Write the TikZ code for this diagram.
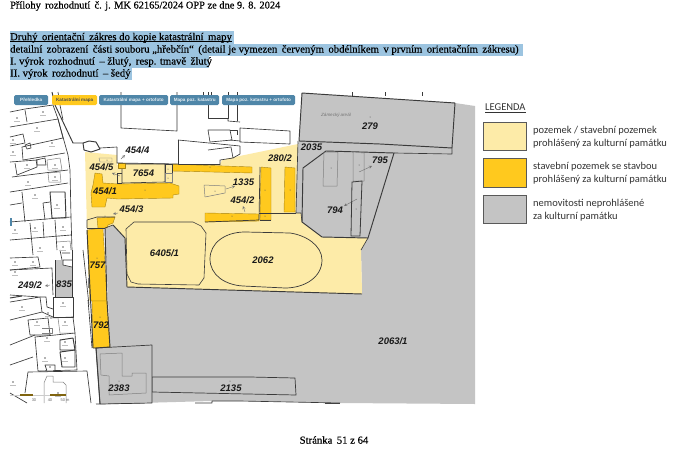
\documentclass[tikz,border=0pt]{standalone}
\usepackage{fontspec}
\setmainfont{Liberation Serif}
\newfontfamily\hdrfont[FakeBold=0.35]{Liberation Serif}
\newfontfamily\legfont{Carlito}
\newfontfamily\mapfont{Liberation Sans}
\usetikzlibrary{calc}
\definecolor{ly}{HTML}{FDEBA8}
\definecolor{dy}{HTML}{FFC91E}
\definecolor{gy}{HTML}{C4C4C4}
\definecolor{hl}{HTML}{9CC4E0}
\definecolor{btn}{HTML}{4F86A8}
\definecolor{ln}{HTML}{3A3A3A}
\tikzset{
 hdr/.style={anchor=west,inner sep=0pt,font=\hdrfont\fontsize{10.7}{10}\selectfont,text=black},
 par/.style={anchor=center,inner sep=0pt,font=\mapfont\fontsize{9.5}{10}\selectfont\bfseries\itshape,text=black!90},
 cad/.style={draw=ln,line width=.65pt,line join=round},
 thick2/.style={draw=ln,line width=.95pt,line join=round},
 lyf/.style={fill=ly,draw=none},
 dyf/.style={fill=dy,draw=black!35!dy,line width=.4pt,line join=round},
 gyf/.style={fill=gy,draw=ln,line width=.7pt,line join=round},
 soft/.style={draw=black!50,line width=.5pt,line join=round},
 btnbox/.style={fill=btn,rounded corners=1.5pt,minimum height=10pt,inner sep=0pt,text=white!85!btn,font=\mapfont\fontsize{4.6}{5}\selectfont\bfseries},
 legt/.style={anchor=west,inner sep=0pt,align=left,font=\legfont\fontsize{10.5}{12.7}\selectfont,text=black!80},
 legb/.style={draw=black!65,line width=.5pt,minimum width=43pt,inner sep=0pt,anchor=north west},
 ptr/.style={draw=black!55,line width=.4pt,->,>=stealth},
 dot/.style={fill=black!70,circle,inner sep=.35pt},
 scl/.style={inner sep=0pt,font=\mapfont\fontsize{4}{5}\selectfont,text=black!60}
}
\begin{document}
\begin{tikzpicture}[x=1pt,y=-1pt]
\useasboundingbox (0,0) rectangle (680,450);
\fill[white] (0,0) rectangle (680,450);
% header
\node[hdr,font=\hdrfont\fontsize{10.4}{10}\selectfont] (h0) at (10,6) {Přílohy\, rozhodnutí\, č. j. MK 62165/2024 OPP ze dne 9. 8. 2024};
\fill[hl] (10,31) rectangle (234,43.5);
\fill[hl] (10,43.5) rectangle (523,56);
\fill[hl] (10,56) rectangle (209,68);
\fill[hl] (10,68) rectangle (132,80);
\node[hdr] (h1) at (10,37.5) {\underbar{Druhý\, orientační\, zákres do kopie katastrální\, mapy}};
\node[hdr] (h2) at (10,50) {detailní\, zobrazení\, části souboru „hřebčín“\, (detail je vymezen\, červeným\, obdélníkem\, v prvním\, orientačním\, zákresu)};
\node[hdr] (h3) at (10,62) {I. výrok\, rozhodnutí\, – žlutý,\, resp. tmavě\, žlutý};
\node[hdr] (h4) at (10,74) {II. výrok\, rozhodnutí\, – šedý};
% grey base of the map
\fill[gy] (105,228) -- (113,225) -- (125,238) -- (127,287) -- (362,294) -- (361,250) -- (368,238) -- (394,153) -- (452,154) -- (455,103) -- (475,106) -- (475,404) -- (340,403) -- (240,401) -- (212,401) -- (140,403) -- (100,404) -- (96,348) -- (110,347) -- cycle;
% light yellow estate
\fill[lyf] (85,152) -- (117,155) -- (117,165) -- (178,165) -- (220,164) -- (222,160) -- (230,158) -- (298,144) -- (296,213) -- (301,213) -- (302,222) -- (322,237) -- (368,238) -- (361,250) -- (362,294) -- (127,287) -- (125,238) -- (113,225) -- (105,228) -- (87,228) -- cycle;
% plot 279 and strip 2035
\fill[gy] (299,141) -- (302,93) -- (455,103) -- (452,154) -- (394,153) -- (368,238) -- (322,237) -- (302,222) -- (301,213) -- (296,213) -- (298,144) -- cycle;
\draw[thick2] (299,141) -- (302,93) -- (455,103) -- (452,148) -- (380,144) -- (299,141);
\draw[cad] (452,148) -- (452,154) -- (394,153);
\draw[cad] (298,141) -- (296,213) -- (301,213) -- (302,222);
\draw[thick2] (326,151) -- (394,153) -- (368,238) -- (322,237) -- (302,222) -- (303,168) -- cycle;
\draw[soft] (324,152) -- (338,152) -- (337,186) -- (323,186) -- cycle;
\path[fill=gy,soft] (353,152) -- (364,153) -- (364,181) -- (353,181) -- cycle;
\path[fill=gy,draw=ln,line width=.8pt] (352,182) -- (362,181) -- (360,236) -- (351,236) -- cycle;
% strip 2135 and plot 2383
\path[fill=gy,draw=ln,line width=.7pt,line join=round] (152,377) -- (250,377) -- (295,378) -- (296,395) -- (152,392) -- cycle;
\draw[cad] (96,404) -- (140,403) (195,403) -- (212,403) -- (212,401) -- (240,401) -- (340,403);
\draw[draw=black!75,line width=1pt] (325,403.5) -- (340,403.5);
\path[gyf] (96,348) -- (152,345) -- (152,403) -- (100,404) -- cycle;
\draw[soft] (100,354) -- (122,353) -- (122,376) -- (132,376) -- (132,373) -- (146,373) -- (146,393) -- (109,395) -- (109,376) -- (101,375) -- cycle;
% frame of the lower estate
\draw[thick2] (127,287) -- (362,294);
\draw[cad] (361,250) -- (368,238);
% dark yellow plots
\path[dyf] (87,230) -- (103,228) -- (107,301) -- (90,301) -- cycle;
\path[dyf] (92,301) -- (107,301) -- (110,347) -- (93,348) -- cycle;
\path[dyf] (97,218) -- (115,217) -- (113,223) -- (108,225) -- (107,228) -- (98,228) -- cycle;
\draw[thick2] (105,228) -- (107,301) -- (110,347) -- (96,348);
\draw[thick2] (113,225) -- (125,238) -- (127,287);
\draw[cad] (105,228) -- (113,225);
\draw[cad] (87,228) -- (87,220) -- (97,217) -- (115,217);
\draw[cad] (87,228) -- (105,228);
\draw[thick2] (87,230) -- (93,348);
% main building 454/1
\path[dyf] (95,173) -- (102,174) -- (103,183) -- (118,184) -- (170,183) -- (179,186) -- (179,194) -- (173,195) -- (173,198) -- (118,199) -- (107,198) -- (105,207) -- (92,207) -- (91,193) -- (93,185) -- cycle;
% strips
\path[dyf] (172,164) -- (195,165) -- (252,167) -- (252,173) -- (172,171) -- cycle;
\path[dyf] (261,167) -- (271,168) -- (271,220) -- (260,220) -- cycle;
\path[dyf] (285,167) -- (295,168) -- (295,212) -- (284,212) -- cycle;
\path[dyf] (205,213) -- (259,214) -- (259,221) -- (205,222) -- cycle;
\draw[ln,line width=.7pt] (260,167) -- (259,220) -- (205,222);
\draw[ln,line width=.7pt] (259,213) -- (296,213);
\draw[ln,line width=.4pt] (271,220) -- (260,220);
% small boxes
\path[fill=ly,soft] (204,185) -- (225,186) -- (225,193) -- (205,197) -- cycle;
\path[fill=ly,draw=ln,line width=.6pt] (122,164) -- (165,164) -- (165,182) -- (122,183) -- cycle;
\path[fill=ly,draw=ln,line width=.5pt] (165,164) -- (172,164) -- (172,173) -- (165,173) -- cycle;
\path[fill=ly,soft,line width=.4pt] (165,173) -- (172,173) -- (172,182) -- (165,182) -- cycle;
\path[fill=ly,soft,line width=.4pt] (99,158) -- (112,158) -- (112,162) -- (100,162) -- cycle;
\path[dyf] (118,163) -- (125,163) -- (125,168) -- (118,168) -- cycle;
\draw[ln,line width=.7pt] (117,147) -- (117,163) -- (178,164);
\draw[ln,line width=.6pt] (117,173) -- (122,173) (117,173) -- (117,183) -- (122,183);
% courts
\path[fill=ly,draw=ln,line width=.6pt] (134,222) -- (193,222) -- (201,226) -- (206,233) -- (204,278) -- (199,285) -- (138,284) -- (131,282) -- (127,274) -- (126,229) -- cycle;
\path[fill=ly,draw=ln,line width=.7pt] (245,232) -- (290,233) .. controls (305,235) and (322,245) .. (322,260) .. controls (322,277) and (305,288) .. (285,288) -- (243,286) .. controls (225,285) and (210,275) .. (210,259) .. controls (210,243) and (225,232) .. (245,232) -- cycle;
% grey 835
\fill[gy] (55,260) -- (63,260) -- (63,265) -- (70,267) -- (72,267) -- (72,297) -- (55,297) -- cycle;
\draw[cad] (55,260) -- (55,297) -- (72,297) -- (72,250);
\draw[cad] (72,260) -- (63,260) -- (63,265) -- (72,267);
\draw[cad] (62,253) -- (70,253) (60,250) -- (62,260);
% left cadastre: upper part
\draw[thick2] (52,92) -- (55,105) -- (73,143) -- (83,143);
\draw[cad] (58,92) -- (60,105) -- (63,120);
\draw[cad] (58,119) -- (68,155) -- (70,170) -- (71,217);
\draw[cad] (25,110) -- (27,122);
\draw[cad] (10,112) -- (25,109) -- (53,105) -- (58,119);
\draw[cad] (10,127) -- (58,119) -- (63,138) -- (22,147) -- (23,160);
\draw[cad] (10,137) -- (23,134) -- (25,143) -- (10,146);
\draw[cad] (25,145) -- (30,143) -- (31,148) -- (27,149) -- cycle;
\draw[cad] (23,160) -- (65,153);
\draw[cad] (10,162) -- (37,160) -- (37,167) -- (17,175);
\draw[cad] (15,163) -- (17,175);
\draw[cad] (36,160) -- (45,158) -- (46,165) -- (37,165) -- cycle;
\draw[soft] (47,160) -- (60,158) -- (62,170) -- (48,170) -- cycle;
\draw[soft] (48,173) -- (60,172) -- (61,182) -- (49,182) -- cycle;
\draw[cad] (12,177) -- (68,170);
\draw[cad] (10,192) -- (68,183);
\draw[cad] (10,205) -- (22,203);
\draw[cad] (22,192) -- (25,222);
\draw[thick2] (50,192) -- (65,192) -- (66,218) -- (52,218) -- cycle;
\draw[cad] (43,203) -- (50,202) (43,203) -- (45,220);
\draw[cad] (10,222) -- (71,217);
\draw[cad] (10,240) -- (71,235);
\draw[cad] (30,223) -- (33,255);
\draw[cad] (43,222) -- (44,238) (55,220) -- (57,250);
\draw[cad] (71,217) -- (72,250);
\draw[soft] (57,242) -- (70,241) -- (71,250);
% left cadastre: lower part
\draw[cad] (10,258) -- (38,257) -- (40,267) -- (10,270);
\draw[cad] (10,270) -- (52,268) -- (53,295);
\draw[cad] (10,295) -- (40,297) (10,302) -- (40,297) -- (42,312) -- (10,320);
\draw[thick2] (10,298) -- (22,296);
\draw[cad] (40,297) -- (46,297) -- (47,307) -- (53,309);
\draw[cad] (42,312) -- (53,317);
\draw[thick2] (53,297) -- (73,297) -- (73,317) -- (53,317) -- cycle;
\draw[cad] (28,320) -- (48,318) -- (50,335) -- (30,335) -- cycle;
\draw[cad] (50,318) -- (73,317) -- (75,333);
\draw[soft] (58,318) -- (60,333) -- (73,333);
\draw[soft] (42,328) -- (52,328) -- (52,333) -- (42,333);
\draw[cad] (35,337) -- (75,333) -- (77,370) -- (38,371) -- cycle;
\draw[cad] (10,345) -- (35,335);
\draw[cad] (10,365) -- (33,357);
\draw[thick2] (60,340) -- (73,338) -- (75,350) -- (60,350) -- cycle;
\draw[thick2] (60,352) -- (75,350) -- (75,367) -- (62,367) -- cycle;
\draw[cad] (45,365) -- (55,365) -- (55,371) -- (47,371) -- cycle;
\draw[cad] (28,372) -- (87,371) -- (91,403);
\draw[cad] (28,372) -- (25,393);
\draw[soft] (44,403) -- (44,383) -- (47,376) -- (53,376) -- (53,382) -- (63,382) -- (66,385) -- (66,403);
\draw[cad] (10,393) -- (27,403);
\draw[cad] (83,250) -- (89,305);
\draw[soft] (88,278) -- (88,288);
\draw[thick2] (93,348) -- (96,348) -- (100,404);
\draw[cad] (88,300) -- (92,348);
% top zone
\draw[thick2] (83,143) -- (84,150) -- (91,152) -- (100,149) -- (96,142) -- (89,141) -- (83,143);
\draw[cad] (100,148) -- (117,147);
\draw[cad] (178,140) -- (178,164) -- (220,164);
\draw[cad] (121,92) -- (121,128) -- (177,131) -- (177,92);
\draw[cad] (208,92) -- (208,118) -- (228,118) -- (228,92);
\draw[cad] (228,118) -- (228,121) -- (240,122);
\draw[cad] (237,92) -- (237,121);
\draw[cad] (208,130) -- (230,130) -- (232,140) -- (210,142) -- cycle;
\draw[cad] (178,140) -- (240,146);
\draw[cad] (208,150) -- (231,147) -- (233,158) -- (220,160) -- (220,165);
\draw[cad] (240,128) -- (290,131) -- (290,144) -- (240,142) -- cycle;
\draw[cad] (230,130) -- (237,130) -- (237,135);
\draw[cad] (230,140) -- (240,141);
\draw[cad] (240,146) -- (240,154) -- (233,158);
% ticks
\draw[cad] (203,92) -- (203,98) (211,92) -- (211,97) (352,92) -- (352,96) (385,92) -- (385,96) (422,92) -- (422,96);
% tabs
\node[btnbox,minimum width=34pt,anchor=west] (tab1) at (14,100) {Přehledka};
\node[btnbox,minimum width=45pt,anchor=west,fill=dy,text=black!70] (tab2) at (52,100) {Katastrální mapa};
\node[btnbox,minimum width=69pt,anchor=west] (tab3) at (99,100) {Katastrální mapa + ortofoto};
\node[btnbox,minimum width=49pt,anchor=west] (tab4) at (170,100) {Mapa poz. katastru};
\node[btnbox,minimum width=73pt,anchor=west] (tab5) at (222,100) {Mapa poz. katastru + ortofoto};
\fill[btn] (10,218) rectangle (11.5,226);
% parcel marks on the left
\foreach \q in {(43,112),(17,118),(37,128),(13,140),(52,143),(13,152),(27,165),(55,165),(55,177),(28,182),(35,195),(57,205),(15,230),(35,228),(63,227),(40,248),(63,247),(15,262),(15,272),(22,307),(48,313),(63,303),(37,322),(65,322),(47,338),(65,342),(65,358),(45,358),(50,367),(58,393),(13,382),(33,262)}{
  \fill[black!60] \q circle (.9pt);
  \draw[black!25,line width=1pt] \q ++(-3,3) -- ++(6,0);
}
% parcel numbers
\node[par] (p1) at (137.5,150) {454/4};
\node[par] (p2) at (101.5,167) {454/5};
\node[par] (p3) at (143.5,173) {7654};
\node[par] (p4) at (105,191) {454/1};
\node[par] (p5) at (131.5,209) {454/3};
\node[par] (p6) at (243.5,182) {1335};
\node[par] (p7) at (242.5,200) {454/2};
\node[par] (p8) at (280,158) {280/2};
\node[par] (p9) at (311.5,147) {2035};
\node[par] (p10) at (370,126) {279};
\node[par] (p11) at (380,160) {795};
\node[par] (p12) at (335,210) {794};
\node[par] (p13) at (164.5,253) {6405/1};
\node[par] (p14) at (263,260) {2062};
\node[par] (p15) at (97.5,265) {757};
\node[par] (p16) at (101,325) {792};
\node[par] (p17) at (64,284) {835};
\node[par] (p18) at (30,285) {249/2};
\node[par] (p19) at (119,388) {2383};
\node[par] (p20) at (231,388) {2135};
\node[par] (p21) at (393,341) {2063/1};
\node[anchor=center,inner sep=0pt,font=\mapfont\fontsize{4.5}{5}\selectfont\itshape,text=black!55] (pz) at (336,115) {Zámecký areál};
% pointers
\draw[ptr] (121,159) -- (125,155);
\draw[ptr] (120,176) -- (112,173);
\draw[ptr] (118,213) -- (113,214);
\draw[ptr] (226,189) -- (235,186);
\draw[ptr] (245,212) -- (243,206);
\draw[ptr] (359,172) -- (372,166);
\draw[ptr] (357,199) -- (344,206);
\draw[ptr] (50,285) -- (45,286);
% points
\foreach \q in {(107,160),(168,169),(168,178),(145,190),(215,191),(232,216),(265,190),(290,190),(265,216),(331,168),(359,165),(356,209),(370,117),(97,258),(100,317),(63,286),(119,381),(230,381),(105,216),(210,167)}
  \node[dot] at \q {};
% scale bar
\draw[black!20,line width=1pt] (10,395) -- (66,395);
\draw[black!50!dy,line width=1.5pt] (20,395) -- (33,395) (50,395) -- (66,395);
\node[scl] (s1) at (34,400) {30};
\node[scl] (s2) at (50,400) {40};
\node[scl] (s3) at (65,400) {50 m};
% legend
\node[anchor=west,inner sep=0pt,font=\legfont\fontsize{10.5}{10}\selectfont,text=black!80] (lg) at (485,108) {\underbar{LEGENDA}};
\node[legb,fill=ly,minimum height=28pt] (b1) at (483,122) {};
\node[legb,fill=dy,minimum height=29pt] (b2) at (483,158) {};
\node[legb,fill=gy,minimum height=28pt] (b3) at (483,195) {};
\node[legt] (t1) at (533,137) {pozemek / stavební pozemek\\prohlášený za kulturní památku};
\node[legt] (t2) at (533,173.5) {stavební pozemek se stavbou\\prohlášený za kulturní památku};
\node[legt] (t3) at (533,210.5) {nemovitosti neprohlášené\\za kulturní památku};
% footer
\node[anchor=center,inner sep=0pt,font=\hdrfont\fontsize{10.7}{10}\selectfont,text=black] (f) at (334,440) {Stránka\, 51 z 64};
\end{tikzpicture}
\end{document}
